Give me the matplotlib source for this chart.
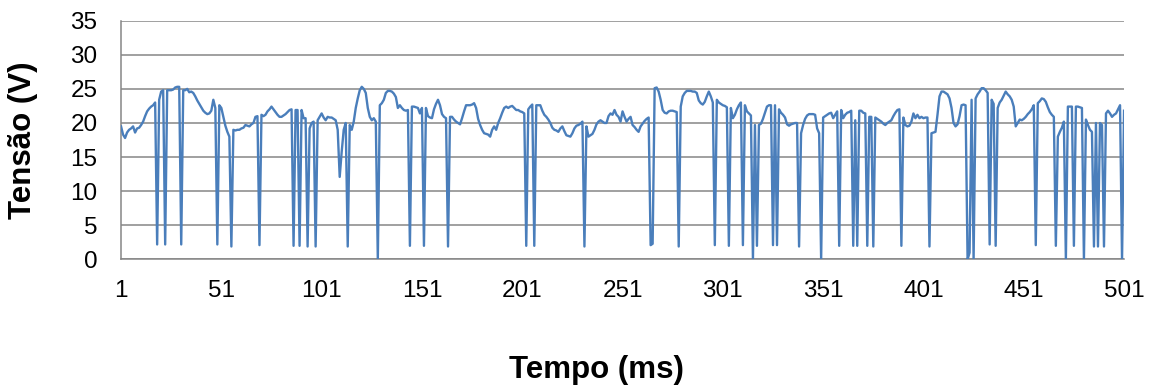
import matplotlib
matplotlib.use("Agg")
import matplotlib.pyplot as plt
import numpy as np

plt.rcParams['font.family'] = ['Liberation Sans', 'DejaVu Sans']

# Voltage samples, one per millisecond (index 1..501)
tensao = [
    19.5, 18.3, 17.8, 18.6, 19.0, 19.2, 19.5, 18.6, 19.2, 19.3,
    19.7, 20.2, 21.0, 21.7, 22.1, 22.4, 22.6, 23.0, 2.2, 23.4,
    24.6, 24.8, 2.2, 24.8, 24.8, 24.8, 24.9, 25.2, 25.3, 25.3,
    2.2, 24.8, 24.8, 25.0, 24.5, 24.6, 24.4, 23.9, 23.3, 22.8,
    22.3, 21.8, 21.5, 21.3, 21.4, 21.8, 23.4, 22.2, 2.2, 22.6,
    22.2, 20.9, 19.6, 18.7, 18.0, 1.9, 19.0, 18.9, 19.0, 19.0,
    19.2, 19.3, 19.7, 19.6, 19.5, 19.8, 20.0, 20.9, 21.0, 2.1,
    21.2, 21.0, 21.2, 21.7, 22.0, 22.4, 22.0, 21.6, 21.2, 20.9,
    20.9, 21.1, 21.3, 21.6, 21.9, 22.0, 2.0, 21.9, 21.9, 2.0,
    21.9, 20.7, 20.7, 1.9, 19.2, 20.0, 20.2, 1.9, 20.4, 20.9,
    21.4, 20.8, 20.4, 20.9, 20.8, 20.8, 20.6, 20.4, 19.0, 12.1,
    15.8, 19.0, 20.0, 1.9, 19.7, 19.0, 20.2, 22.2, 23.6, 24.8,
    25.3, 25.0, 24.4, 22.2, 20.9, 20.4, 20.7, 20.2, 0.0, 22.6,
    22.9, 23.4, 24.4, 24.7, 24.7, 24.6, 24.3, 23.8, 22.2, 22.6,
    22.2, 21.9, 21.8, 21.9, 2.0, 22.4, 22.4, 22.3, 22.2, 21.4,
    22.2, 2.0, 22.2, 21.0, 20.8, 20.7, 22.0, 22.8, 23.4, 22.6,
    21.3, 20.9, 20.7, 1.9, 20.9, 20.9, 20.5, 20.2, 20.0, 19.8,
    20.7, 21.7, 22.6, 22.6, 22.6, 22.7, 22.9, 22.2, 20.6, 19.7,
    19.0, 18.5, 18.4, 18.3, 18.0, 19.0, 19.5, 19.0, 20.0, 20.7,
    21.5, 22.2, 22.4, 22.2, 22.4, 22.5, 22.2, 21.9, 21.9, 21.7,
    21.6, 21.4, 2.0, 22.0, 22.4, 22.7, 2.0, 22.6, 22.6, 22.6,
    21.8, 21.2, 20.9, 20.5, 20.0, 19.3, 19.0, 18.9, 18.7, 19.2,
    19.5, 18.8, 18.2, 18.1, 18.0, 18.5, 19.2, 19.6, 19.7, 19.9,
    20.2, 1.9, 19.5, 18.0, 18.2, 18.4, 19.0, 19.8, 20.2, 20.4,
    20.2, 20.0, 20.0, 21.0, 21.4, 21.2, 21.9, 21.2, 20.9, 20.2,
    21.7, 20.9, 20.2, 20.6, 20.9, 19.7, 19.4, 19.0, 18.7, 19.5,
    19.9, 20.3, 20.6, 20.8, 2.1, 2.3, 25.1, 25.2, 24.6, 23.4,
    21.9, 21.5, 21.4, 21.7, 21.8, 21.8, 21.7, 21.6, 1.9, 22.4,
    23.9, 24.4, 24.7, 24.7, 24.7, 24.6, 24.6, 24.4, 23.3, 22.9,
    22.7, 23.1, 23.9, 24.6, 23.9, 23.0, 2.1, 23.4, 23.0, 22.8,
    22.6, 22.5, 22.3, 2.0, 22.2, 20.7, 21.2, 22.0, 22.6, 23.0,
    2.1, 22.6, 21.7, 21.4, 21.1, 0.0, 19.7, 2.0, 19.7, 19.9,
    20.6, 21.5, 22.4, 22.6, 22.6, 2.1, 22.6, 2.1, 22.0, 21.5,
    21.2, 20.8, 19.8, 19.6, 19.8, 19.9, 20.0, 20.0, 1.9, 18.5,
    19.7, 20.6, 21.1, 21.3, 21.3, 21.3, 21.2, 19.2, 18.5, 0.0,
    20.8, 21.0, 21.2, 21.4, 21.5, 20.7, 21.2, 21.7, 2.0, 21.9,
    20.7, 21.2, 21.5, 21.6, 21.8, 2.0, 20.4, 2.0, 21.8, 21.8,
    21.5, 21.4, 2.0, 20.9, 20.9, 1.9, 20.8, 20.6, 20.4, 20.2,
    19.9, 19.7, 20.0, 20.2, 20.4, 21.0, 21.5, 21.9, 22.0, 2.0,
    20.8, 19.7, 19.5, 19.6, 20.2, 21.4, 20.7, 21.2, 20.7, 20.9,
    20.7, 20.8, 20.8, 1.9, 18.5, 18.6, 18.7, 21.2, 23.9, 24.6,
    24.6, 24.4, 24.2, 23.6, 22.2, 20.0, 19.5, 19.8, 21.0, 22.6,
    22.7, 22.6, 0.0, 1.0, 23.4, 0.0, 23.6, 24.2, 24.6, 25.1,
    25.1, 24.8, 24.4, 2.2, 23.4, 22.8, 2.0, 22.2, 23.0, 23.4,
    24.0, 24.6, 24.2, 23.9, 23.4, 22.4, 19.5, 20.0, 20.5, 20.4,
    20.6, 20.9, 21.3, 21.6, 22.0, 22.6, 2.1, 22.9, 23.2, 23.6,
    23.5, 23.1, 22.3, 21.6, 21.2, 20.9, 2.0, 18.0, 18.7, 19.3,
    20.2, 0.0, 22.4, 22.4, 22.4, 2.0, 22.4, 22.4, 22.3, 22.2,
    0.0, 20.5, 19.7, 19.0, 18.7, 1.9, 20.0, 1.9, 20.0, 19.7,
    1.9, 21.4, 21.8, 21.4, 20.9, 21.2, 21.4, 22.0, 22.6, 0.0,
    21.8,
]
tempo = list(range(1, len(tensao) + 1))

x_ticks = [1, 51, 101, 151, 201, 251, 301, 351, 401, 451, 501]
y_ticks = [0, 5, 10, 15, 20, 25, 30, 35]

fig = plt.figure(figsize=(11.55, 3.89), dpi=100)
ax = fig.add_axes([0.1048, 0.333, 0.8684, 0.614])

grid_color = '#868686'
ax.plot(tempo, tensao, color='#4A7EBB', linewidth=1.7, solid_joinstyle='round', zorder=3)

ax.set_xlim(1, 501)
ax.set_ylim(0, 35)
ax.set_xticks(x_ticks)
ax.set_yticks(y_ticks)
ax.yaxis.grid(True, color=grid_color, linewidth=1.1)
ax.set_axisbelow(True)

for side in ('top', 'right'):
    ax.spines[side].set_visible(False)
for side in ('left', 'bottom'):
    ax.spines[side].set_color(grid_color)
    ax.spines[side].set_linewidth(1.1)

ax.tick_params(axis='both', length=0, labelsize=17.5, colors='black')
ax.tick_params(axis='y', pad=17)
ax.tick_params(axis='x', pad=15)

ax.set_xlabel('Tempo (ms)', fontsize=22.5, fontweight='bold')
ax.xaxis.set_label_coords(0.4736, -0.40)
ax.set_ylabel('Tensão (V)', fontsize=22.5, fontweight='bold')
ax.yaxis.set_label_coords(-0.083, 0.5)

fig.savefig('out.png', dpi=100)
